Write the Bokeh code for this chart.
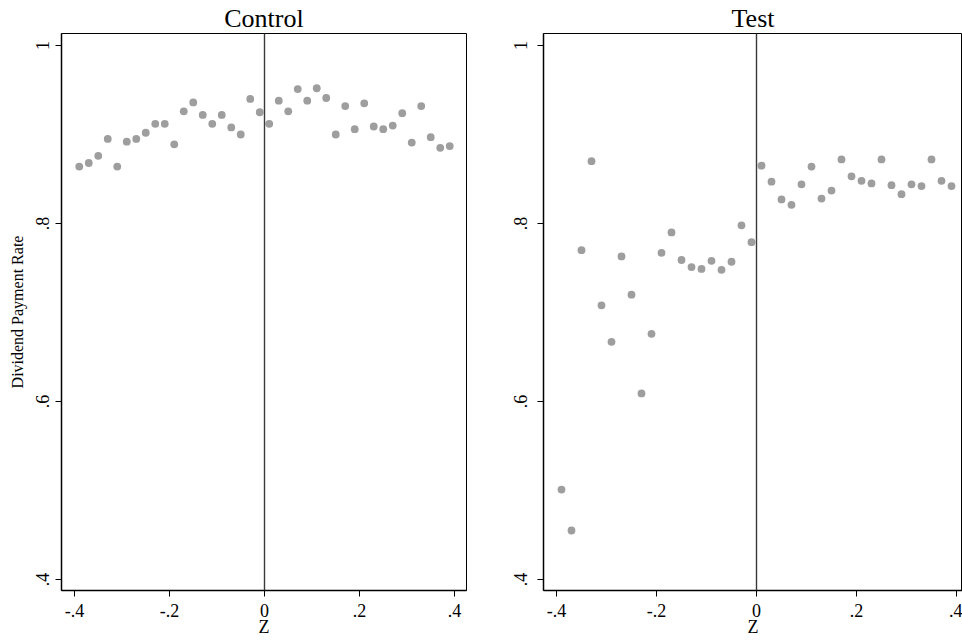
from bokeh.plotting import figure
from bokeh.layouts import row
from bokeh.models import Span, FixedTicker
from bokeh.embed import file_html
from bokeh.resources import INLINE

# ---- data ----
z_left = [-0.39, -0.37, -0.35, -0.33, -0.31, -0.29, -0.27, -0.25, -0.23, -0.21,
          -0.19, -0.17, -0.15, -0.13, -0.11, -0.09, -0.07, -0.05, -0.03, -0.01]
z_right = [0.01, 0.03, 0.05, 0.07, 0.09, 0.11, 0.13, 0.15, 0.17, 0.19,
           0.21, 0.23, 0.25, 0.27, 0.29, 0.31, 0.33, 0.35, 0.37, 0.39]

control_left = [0.864, 0.868, 0.876, 0.895, 0.864, 0.892, 0.895, 0.902, 0.912, 0.912,
                0.889, 0.926, 0.936, 0.922, 0.912, 0.922, 0.908, 0.900, 0.940, 0.925]
control_right = [0.912, 0.938, 0.926, 0.951, 0.938, 0.952, 0.941, 0.900, 0.932, 0.906,
                 0.935, 0.909, 0.906, 0.910, 0.924, 0.891, 0.932, 0.897, 0.885, 0.887]

test_left = [0.501, 0.455, 0.770, 0.870, 0.708, 0.667, 0.763, 0.720, 0.609, 0.676,
             0.767, 0.790, 0.759, 0.751, 0.749, 0.758, 0.748, 0.757, 0.798, 0.779]
test_right = [0.865, 0.847, 0.827, 0.821, 0.844, 0.864, 0.828, 0.837, 0.872, 0.853,
              0.848, 0.845, 0.872, 0.843, 0.833, 0.844, 0.842, 0.872, 0.848, 0.842]

x_ticks = [-0.4, -0.2, 0.0, 0.2, 0.4]
x_tick_labels = ["-.4", "-.2", "0", ".2", ".4"]
y_ticks = [0.4, 0.6, 0.8, 1.0]
y_tick_labels = [".4", ".6", ".8", "1"]

FONT = "Liberation Serif"
DOT = "#9e9e9e"


def make_panel(title, xs, ys, width, x_range, min_left, min_right, ylabel, ystand):
    p = figure(width=width, height=641, output_backend="svg", toolbar_location=None,
               x_range=x_range, y_range=(0.3876, 1.0135),
               min_border_left=min_left, min_border_right=min_right,
               min_border_top=33, min_border_bottom=51)
    p.title.text = title
    p.title.align = "center"
    p.title.text_font = FONT
    p.title.text_font_size = "26px"
    p.title.text_font_style = "normal"
    p.title.text_color = "black"
    p.title.standoff = 2

    p.scatter(xs, ys, size=7.8, fill_color=DOT, line_color=None)
    p.add_layout(Span(location=0, dimension="height", line_color="#3a3a3a", line_width=1.4))

    p.xgrid.grid_line_color = None
    p.ygrid.grid_line_color = None
    p.outline_line_color = "black"
    p.outline_line_width = 1
    p.background_fill_color = "white"
    p.border_fill_color = "white"

    for ax in (p.xaxis[0], p.yaxis[0]):
        ax.axis_line_color = "black"
        ax.axis_line_width = 1.5
        ax.major_tick_line_color = "black"
        ax.major_tick_line_width = 1
        ax.major_tick_in = 0
        ax.major_tick_out = 6
        ax.minor_tick_line_color = None
        ax.major_label_text_font = FONT
        ax.major_label_text_font_size = "18px"
        ax.major_label_text_color = "black"
        ax.axis_label_text_font = FONT
        ax.axis_label_text_font_style = "normal"
        ax.axis_label_text_color = "black"

    p.xaxis.ticker = FixedTicker(ticks=x_ticks)
    p.xaxis.major_label_overrides = dict(zip(x_ticks, x_tick_labels))
    p.xaxis.axis_label = "Z"
    p.xaxis.axis_label_text_font_size = "18px"
    p.xaxis.major_label_standoff = 7
    p.xaxis.axis_label_standoff = -3

    p.yaxis.ticker = FixedTicker(ticks=y_ticks)
    p.yaxis.major_label_overrides = dict(zip(y_ticks, y_tick_labels))
    p.yaxis.major_label_orientation = "vertical"
    p.yaxis.major_label_standoff = ystand
    if ylabel:
        p.yaxis.axis_label = ylabel
        p.yaxis.axis_label_text_font_size = "16px"
        p.yaxis.axis_label_standoff = 8
    return p


p1 = make_panel("Control", z_left + z_right, control_left + control_right,
                486, (-0.4274, 0.4253), 61, 20, "Dividend Payment Rate", 6)
p2 = make_panel("Test", z_left + z_right, test_left + test_right,
                476, (-0.426, 0.412), 57, 0, None, 10)

layout = row(p1, p2)
open("out.html", "w").write(file_html(layout, INLINE))
